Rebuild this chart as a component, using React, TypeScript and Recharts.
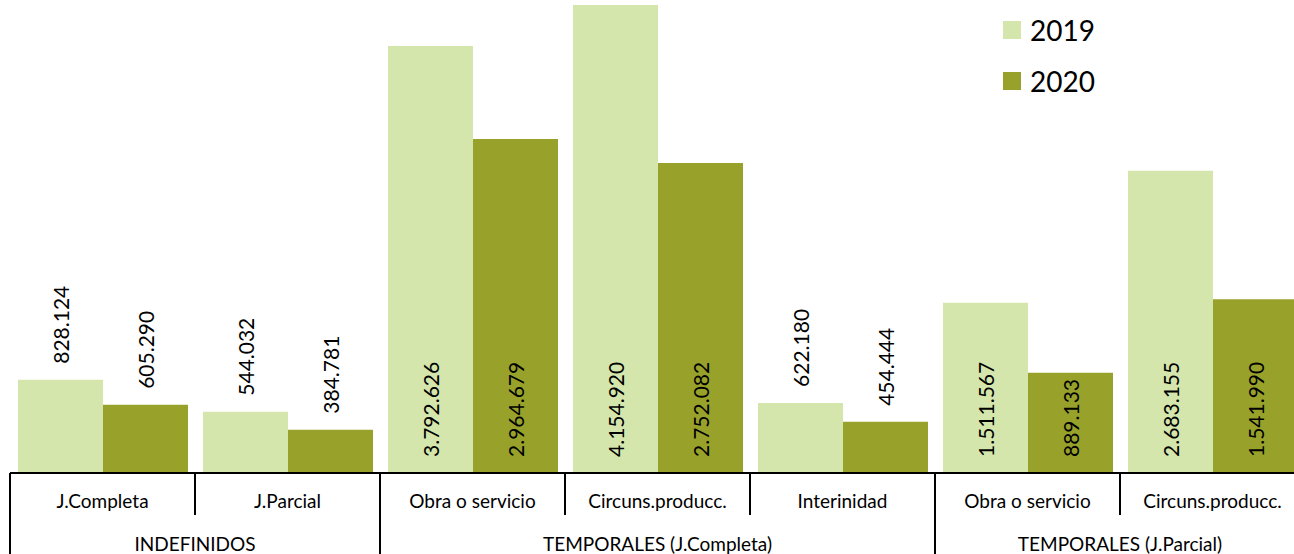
import { Bar, BarChart, LabelList, Legend, XAxis, YAxis } from "recharts";

const categories = [
  "J.Completa",
  "J.Parcial",
  "Obra o servicio",
  "Circuns.producc.",
  "Interinidad",
  "Obra o servicio",
  "Circuns.producc.",
];
const groups = [
  "INDEFINIDOS",
  "INDEFINIDOS",
  "TEMPORALES (J.Completa)",
  "TEMPORALES (J.Completa)",
  "TEMPORALES (J.Completa)",
  "TEMPORALES (J.Parcial)",
  "TEMPORALES (J.Parcial)",
];
const values2019 = [828124, 544032, 3792626, 4154920, 622180, 1511567, 2683155];
const values2020 = [605290, 384781, 2964679, 2752082, 454444, 889133, 1541990];
const seriesNames = ["2019", "2020"];

const COLORS = ["#d4e6ab", "#98a22b"];
const FONT = "Lato, 'Noto Sans', sans-serif";
const BAND = 185; // width of one category on the x axis

const data = categories.map((cat, i) => ({
  cat,
  v2019: values2019[i],
  v2020: values2020[i],
}));

const fmt = (v: number) => v.toLocaleString("de-DE");

function ValueLabel(props: any) {
  const { x, y, width, height, value } = props;
  const cx = x + width / 2;
  // text goes inside near the base when it fits, else above the bar
  const inside = height >= 96;
  const ty = inside ? y + height - 16 : y - 16;
  return (
    <text
      x={cx}
      y={ty}
      transform={`rotate(-90 ${cx} ${ty})`}
      textAnchor="start"
      dominantBaseline="central"
      fontFamily={FONT}
      fontSize={21}
      fill="#000"
    >
      {fmt(value)}
    </text>
  );
}

function CategoryTick(props: any) {
  const { x, y, payload } = props;
  const i = payload.index;
  const left = x - BAND / 2;
  const right = x + BAND / 2;
  const groupStart = i === 0 || groups[i - 1] !== groups[i];
  const groupEnd = i === categories.length - 1 || groups[i + 1] !== groups[i];
  const n = groups.filter((g) => g === groups[i]).length;
  return (
    <g>
      <text
        x={x}
        y={y + 27}
        textAnchor="middle"
        dominantBaseline="central"
        fontFamily={FONT}
        fontSize={19}
        fill="#000"
      >
        {categories[i]}
      </text>
      {i === 0 && (
        <line x1={left} x2={left} y1={y} y2={y + 95} stroke="#000" strokeWidth={2} />
      )}
      <line
        x1={right}
        x2={right}
        y1={y}
        y2={groupEnd ? y + 95 : y + 42}
        stroke="#000"
        strokeWidth={2}
      />
      {groupStart && (
        <text
          x={left + (n * BAND) / 2}
          y={y + 70}
          textAnchor="middle"
          dominantBaseline="central"
          fontFamily={FONT}
          fontSize={19}
          fill="#000"
        >
          {groups[i]}
        </text>
      )}
    </g>
  );
}

function LegendBox() {
  return (
    <div style={{ fontFamily: FONT }}>
      {seriesNames.map((name, i) => (
        <div
          key={name}
          style={{ display: "flex", alignItems: "center", height: 51 }}
        >
          <div style={{ width: 18, height: 18, background: COLORS[i], marginRight: 9 }} />
          <span style={{ fontSize: 28, color: "#000", lineHeight: "28px" }}>{name}</span>
        </div>
      ))}
    </div>
  );
}

export default function App() {
  return (
    <div
      style={{
        position: "fixed",
        left: 0,
        top: 0,
        width: 1294,
        height: 554,
        overflow: "hidden",
        background: "#fff",
      }}
    >
      <BarChart
        width={1305}
        height={570}
        data={data}
        margin={{ top: 0, right: 0, bottom: 0, left: 10 }}
        barCategoryGap={8}
        barGap={0}
      >
        <YAxis hide domain={[0, 4200000]} />
        <XAxis
          dataKey="cat"
          height={97}
          interval={0}
          tickLine={false}
          tickSize={0}
          tickMargin={0}
          axisLine={{ stroke: "#000", strokeWidth: 2 }}
          tick={<CategoryTick />}
        />
        <Legend
          layout="vertical"
          align="center"
          verticalAlign="middle"
          wrapperStyle={{ left: 1003, top: 4, width: "auto" }}
          content={<LegendBox />}
        />
        <Bar dataKey="v2019" name="2019" fill={COLORS[0]} isAnimationActive={false}>
          <LabelList dataKey="v2019" content={<ValueLabel />} />
        </Bar>
        <Bar dataKey="v2020" name="2020" fill={COLORS[1]} isAnimationActive={false}>
          <LabelList dataKey="v2020" content={<ValueLabel />} />
        </Bar>
      </BarChart>
    </div>
  );
}
